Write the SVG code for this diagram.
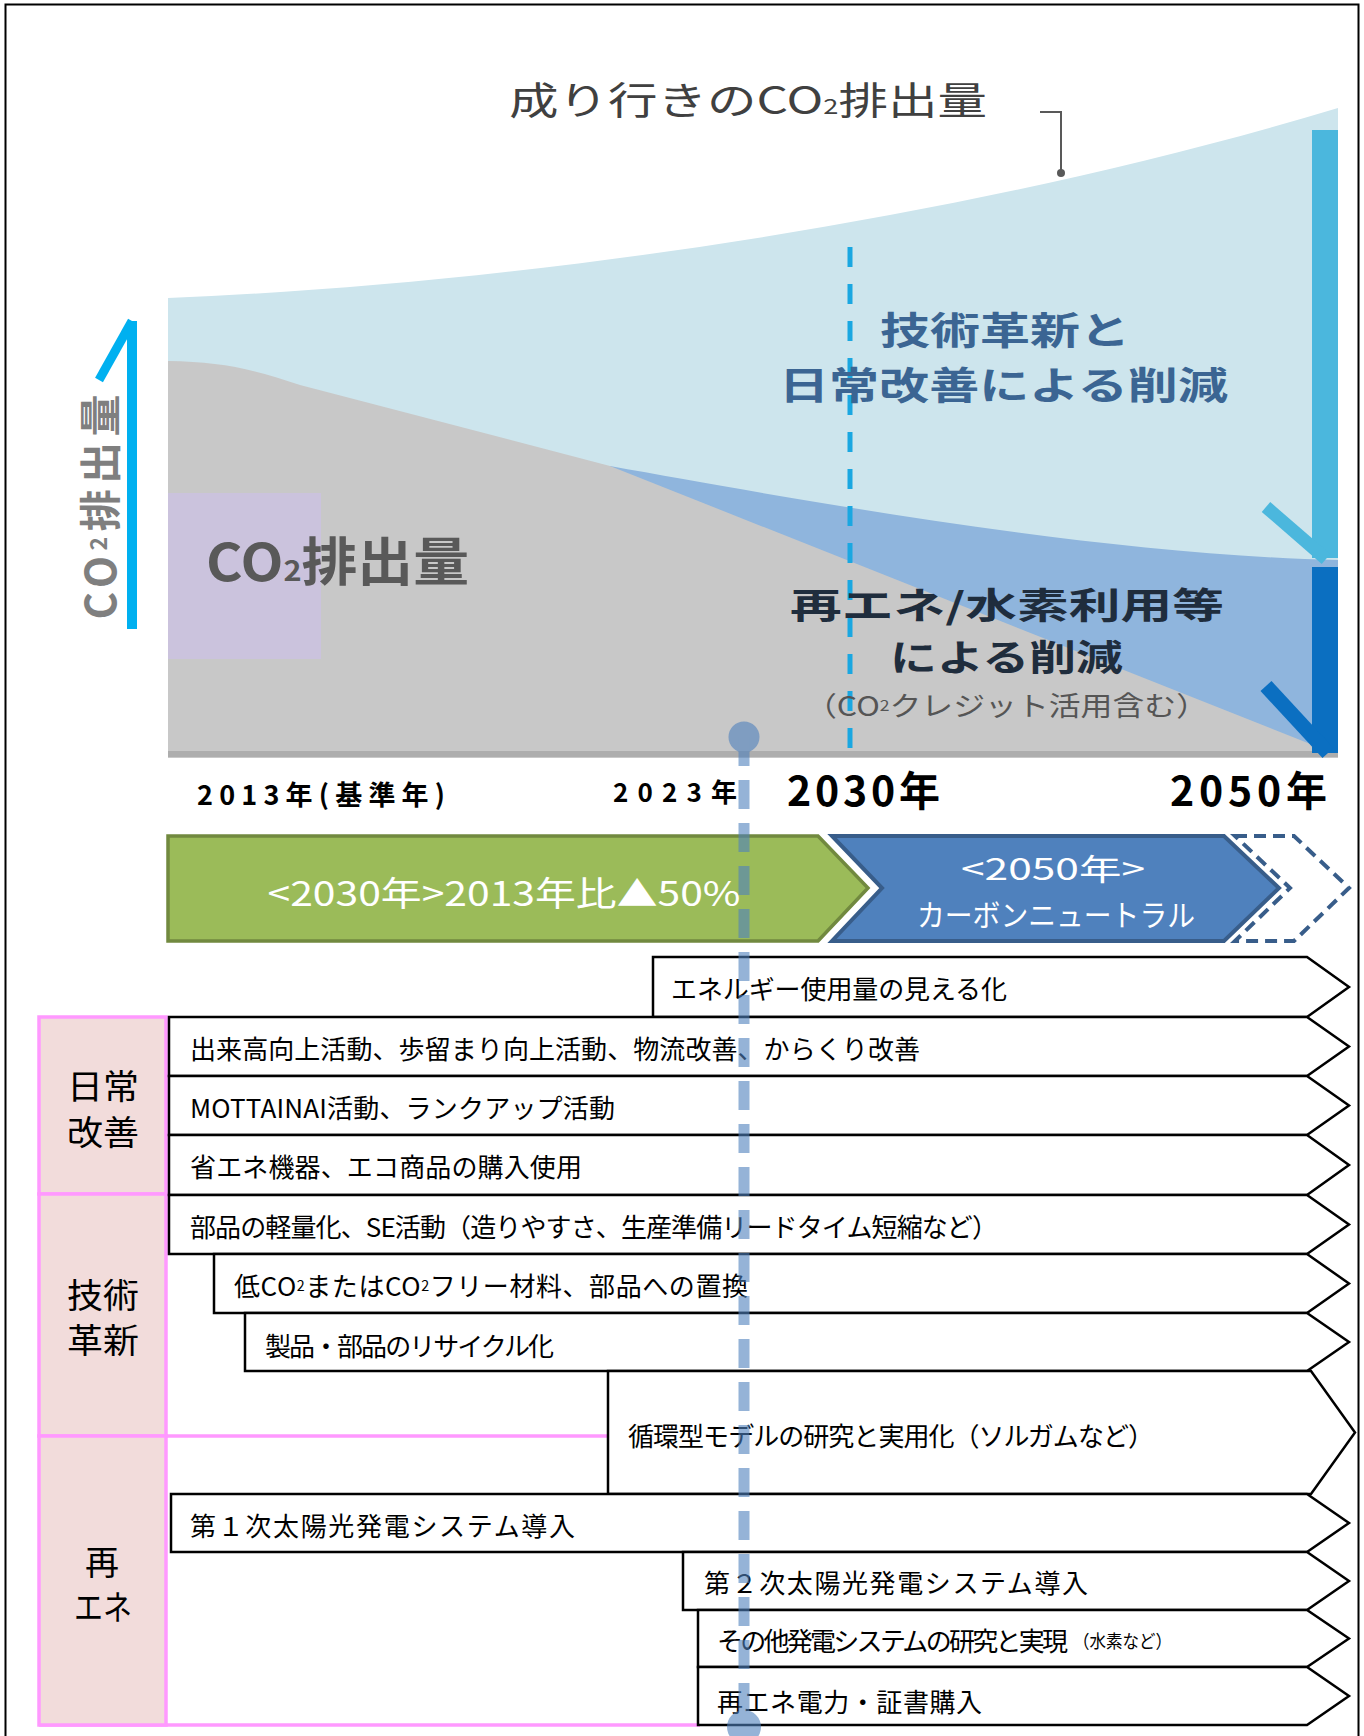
<svg xmlns="http://www.w3.org/2000/svg" width="1364" height="1736" viewBox="0 0 1364 1736">
<defs>
<style>
text { font-family: "Noto Sans CJK JP", "Noto Sans", sans-serif; }
.box { fill:#ffffff; stroke:#000000; stroke-width:2.5; }
.item { font-size:26px; fill:#000000; dominant-baseline:central; }
.small { font-size:18px; }
.cat { fill:#f2dcdb; stroke:#ff99ff; stroke-width:3.5; }
.catt { font-size:34px; fill:#000000; text-anchor:middle; dominant-baseline:central; }
.yr { font-weight:bold; fill:#000000; }
.band { font-size:30px; fill:#ffffff; text-anchor:middle; dominant-baseline:central; }
.cj { font-weight:bold; font-size:38px; dominant-baseline:central; }
.sub { font-size:0.55em; }
</style>
</defs>
<rect x="0" y="0" width="1364" height="1736" fill="#ffffff"/>
<rect x="5.5" y="4.5" width="1353" height="1745" fill="none" stroke="#000" stroke-width="2"/>

<g id="chart">
  <path d="M168,298 C500,285 950,225 1338,108 L1338,758 L168,758 Z" fill="#cde5ed"/>
  <path d="M610,466 C800,500 1100,555 1338,560 L1338,758 L610,758 Z" fill="#8fb5dd"/>
  <path d="M168,361 C220,362 250,368 300,385 L610,466 L1338,755 L1338,758 L168,758 Z" fill="#c8c8c8"/>
  <rect x="168" y="751" width="1170" height="6" fill="#adadad"/>
  <rect x="168" y="493" width="153" height="166" fill="#cbc3dd"/>
  <line x1="850" y1="247" x2="850" y2="753" stroke="#1aa7e1" stroke-width="5" stroke-dasharray="20 17"/>
  <rect x="1312" y="130" width="26" height="428" fill="#4bb7dd"/>
  <line x1="1266" y1="507" x2="1326" y2="559" stroke="#4bb7dd" stroke-width="13"/>
  <rect x="1312" y="567" width="26" height="186" fill="#0b6fc1"/>
  <line x1="1266" y1="686" x2="1328" y2="753" stroke="#0b6fc1" stroke-width="15"/>
  <rect x="1338" y="100" width="18" height="670" fill="#ffffff"/>
</g>

<g id="axis">
  <line x1="132" y1="321" x2="132" y2="629" stroke="#00b0f0" stroke-width="10"/>
  <line x1="132" y1="321" x2="99" y2="380" stroke="#00b0f0" stroke-width="9"/>
  <text transform="translate(97,507) rotate(-90)" text-anchor="middle" dominant-baseline="central" font-size="42" font-weight="bold" fill="#7f7f7f" textLength="225" lengthAdjust="spacing">CO<tspan class="sub">2</tspan>排出量</text>
</g>

<g id="labels">
  <text x="509" y="114" font-size="38" fill="#404040" textLength="478" lengthAdjust="spacingAndGlyphs">成り行きのCO<tspan class="sub">2</tspan>排出量</text>
  <polyline points="1040,112 1061,112 1061,172" fill="none" stroke="#595959" stroke-width="2"/>
  <circle cx="1061" cy="173" r="4" fill="#595959"/>
  <text x="206" y="581" font-size="52" font-weight="bold" fill="#595959" textLength="263" lengthAdjust="spacingAndGlyphs">CO<tspan class="sub">2</tspan>排出量</text>
  <text class="cj" x="880" y="327" fill="#3b6593" textLength="250" lengthAdjust="spacingAndGlyphs">技術革新と</text>
  <text class="cj" x="779" y="382" fill="#3b6593" textLength="449" lengthAdjust="spacingAndGlyphs">日常改善による削減</text>
  <text class="cj" x="790" y="603" style="font-size:36px" fill="#1f2d3d" textLength="434" lengthAdjust="spacingAndGlyphs">再エネ/水素利用等</text>
  <text class="cj" x="890" y="655" style="font-size:36px" fill="#1f2d3d" textLength="233" lengthAdjust="spacingAndGlyphs">による削減</text>
  <text x="805" y="704" font-size="27" fill="#555555" dominant-baseline="central" textLength="403" lengthAdjust="spacingAndGlyphs">（CO<tspan class="sub">2</tspan>クレジット活用含む）</text>
</g>

<g id="years">
  <text class="yr" x="197" y="805" font-size="27" textLength="248" lengthAdjust="spacing">2013年(基準年)</text>
  <text class="yr" x="613" y="802" font-size="26" textLength="124" lengthAdjust="spacing">2023年</text>
  <text class="yr" x="787" y="806" font-size="41" textLength="153" lengthAdjust="spacing">2030年</text>
  <text class="yr" x="1170" y="806" font-size="41" textLength="157" lengthAdjust="spacing">2050年</text>
</g>

<g id="band-2030">
  <path d="M168,836 H818 L868,888 L818,941 H168 Z" fill="#9bbb59" stroke="#71893f" stroke-width="3.5"/>
  <text class="band" x="504" y="891" style="font-size:34px" textLength="473" lengthAdjust="spacingAndGlyphs">&lt;2030年&gt;2013年比▲50%</text>
</g>
<g id="band-2050">
  <path d="M832,836 H1224 L1279,888 L1224,941 H832 L882,888 Z" fill="#4f81bd" stroke="#385d8a" stroke-width="4"/>
  <text class="band" x="1053" y="867" textLength="184" lengthAdjust="spacingAndGlyphs">&lt;2050年&gt;</text>
  <text class="band" x="1056" y="913" textLength="278" lengthAdjust="spacingAndGlyphs">カーボンニュートラル</text>
</g>
<g id="band-future">
  <path d="M1235,836 H1294 L1349,888 L1294,941 H1235 L1290,888 Z" fill="none" stroke="#385d8a" stroke-width="4" stroke-dasharray="12 7"/>
</g>

<g id="categories">
  <line x1="166" y1="1436" x2="608" y2="1436" stroke="#ff99ff" stroke-width="3.5"/>
  <line x1="39" y1="1725" x2="700" y2="1725" stroke="#ff99ff" stroke-width="3.5"/>
  <g id="cat-daily">
    <rect class="cat" x="39" y="1017" width="127" height="177"/>
    <text class="catt" x="103" y="1084" textLength="72" lengthAdjust="spacingAndGlyphs">日常</text>
    <text class="catt" x="103" y="1130" textLength="72" lengthAdjust="spacingAndGlyphs">改善</text>
  </g>
  <g id="cat-tech">
    <rect class="cat" x="39" y="1194" width="127" height="242"/>
    <text class="catt" x="103" y="1293" textLength="72" lengthAdjust="spacingAndGlyphs">技術</text>
    <text class="catt" x="103" y="1338" textLength="72" lengthAdjust="spacingAndGlyphs">革新</text>
  </g>
  <g id="cat-renew">
    <rect class="cat" x="39" y="1436" width="127" height="289"/>
    <text class="catt" x="102" y="1560">再</text>
    <text class="catt" x="103" y="1605" textLength="58" lengthAdjust="spacingAndGlyphs">エネ</text>
  </g>
</g>

<g id="items">
  <g id="item1"><path class="box" d="M653,957 H1307 L1349,987 L1307,1017 H653 Z"/><text class="item" x="671" y="987" textLength="336" lengthAdjust="spacing">エネルギー使用量の見える化</text></g>
  <g id="item2"><path class="box" d="M169,1017 H1307 L1349,1046.5 L1307,1076 H169 Z"/><text class="item" x="190" y="1047" textLength="730" lengthAdjust="spacing">出来高向上活動、歩留まり向上活動、物流改善、からくり改善</text></g>
  <g id="item3"><path class="box" d="M169,1076 H1307 L1349,1105.5 L1307,1135 H169 Z"/><text class="item" x="190" y="1106" textLength="425" lengthAdjust="spacing">MOTTAINAI活動、ランクアップ活動</text></g>
  <g id="item4"><path class="box" d="M169,1135 H1307 L1349,1165 L1307,1195 H169 Z"/><text class="item" x="190" y="1165" textLength="392" lengthAdjust="spacing">省エネ機器、エコ商品の購入使用</text></g>
  <g id="item5"><path class="box" d="M169,1195 H1307 L1349,1224.5 L1307,1254 H169 Z"/><text class="item" x="190" y="1225" textLength="808" lengthAdjust="spacing">部品の軽量化、SE活動（造りやすさ、生産準備リードタイム短縮など）</text></g>
  <g id="item6"><path class="box" d="M214,1254 H1307 L1349,1283.5 L1307,1313 H214 Z"/><text class="item" x="234" y="1284" textLength="514" lengthAdjust="spacing">低CO<tspan class="sub">2</tspan>またはCO<tspan class="sub">2</tspan>フリー材料、部品への置換</text></g>
  <g id="item7"><path class="box" d="M245,1313 H1307 L1349,1342 L1307,1371 H245 Z"/><text class="item" x="265" y="1344" textLength="289" lengthAdjust="spacing">製品・部品のリサイクル化</text></g>
  <g id="item8"><path class="box" d="M608,1371 H1311 L1355,1432.5 L1311,1494 H608 Z"/><text class="item" x="628" y="1434" textLength="526" lengthAdjust="spacing">循環型モデルの研究と実用化（ソルガムなど）</text></g>
  <g id="item9"><path class="box" d="M171,1494 H1307 L1349,1523 L1307,1552 H171 Z"/><text class="item" x="190" y="1524" textLength="385" lengthAdjust="spacing">第１次太陽光発電システム導入</text></g>
  <g id="item10"><path class="box" d="M683,1552 H1307 L1349,1581 L1307,1610 H683 Z"/><text class="item" x="704" y="1581" textLength="384" lengthAdjust="spacing">第２次太陽光発電システム導入</text></g>
  <g id="item11"><path class="box" d="M698,1610 H1307 L1349,1638.5 L1307,1667 H698 Z"/><text class="item" x="717" y="1639" textLength="351" lengthAdjust="spacing">その他発電システムの研究と実現</text><text class="item small" x="1073" y="1640" textLength="99" lengthAdjust="spacingAndGlyphs">（水素など）</text></g>
  <g id="item12"><path class="box" d="M698,1667 H1307 L1349,1696 L1307,1725 H698 Z"/><text class="item" x="717" y="1700" textLength="265" lengthAdjust="spacing">再エネ電力・証書購入</text></g>
</g>

<g id="connectors" opacity="0.6">
  <circle cx="744" cy="737" r="15.5" fill="#4f81bd"/>
  <line x1="744" y1="737" x2="744" y2="1727" stroke="#4f81bd" stroke-width="11" stroke-dasharray="29 14"/>
  <circle cx="744" cy="1727" r="17" fill="#4f81bd"/>
</g>
</svg>
